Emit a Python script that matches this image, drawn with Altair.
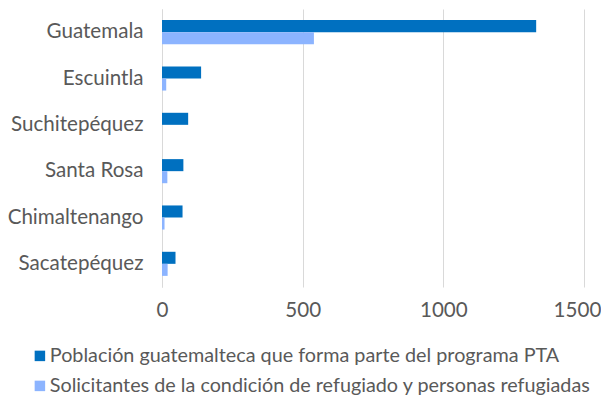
import altair as alt
import pandas as pd

departamentos = ["Guatemala", "Escuintla", "Suchitepéquez", "Santa Rosa", "Chimaltenango", "Sacatepéquez"]
series = ["Población guatemalteca que forma parte del programa PTA",
          "Solicitantes de la condición de refugiado y personas refugiadas"]
pta = [1330, 139, 93, 76, 73, 48]
refugiados = [540, 15, 0, 19, 9, 20]
colores = ["#0070C0", "#8CB4FF"]

rows = []
for d, a, b in zip(departamentos, pta, refugiados):
    rows.append({"dep": d, "serie": series[0], "valor": a})
    rows.append({"dep": d, "serie": series[1], "valor": b})
df = pd.DataFrame(rows)

FONT = "Lato"
TXT = "#595959"
FS = 20.6
LFS = 19.8

chart = alt.Chart(df).mark_bar().encode(
    y=alt.Y("dep:N", sort=departamentos, title=None,
            scale=alt.Scale(paddingInner=0.48, paddingOuter=0.24),
            axis=alt.Axis(ticks=False, domain=True, domainColor="#d9d9d9", labelPadding=19,
                          labelFontSize=FS, labelFont=FONT, labelColor=TXT, grid=False)),
    yOffset=alt.YOffset("serie:N", sort=series, scale=alt.Scale(paddingInner=0, paddingOuter=0)),
    x=alt.X("valor:Q", title=None,
            scale=alt.Scale(domain=[0, 1500], nice=False),
            axis=alt.Axis(values=[0, 500, 1000, 1500], format="d", ticks=False, domain=False, grid=True,
                          gridColor="#d9d9d9", labelPadding=13, labelFontSize=FS, labelFont=FONT,
                          labelColor=TXT, labelFlush=False,
                          labelOffset={"condition": {"test": "datum.value == 1500", "value": -7}, "value": 0})),
    color=alt.Color("serie:N", sort=series,
                    scale=alt.Scale(domain=series, range=colores),
                    legend=alt.Legend(title=None, orient="none", legendX=-132, legendY=337,
                                      direction="vertical", symbolType="square", symbolSize=110,
                                      symbolStrokeWidth=0, labelFontSize=LFS, labelFont=FONT,
                                      labelColor=TXT, rowPadding=9, labelOffset=0,
                                      labelLimit=700)),
).properties(
    width=422, height=278,
    autosize=alt.AutoSizeParams(type="none"),
    padding={"left": 154, "top": 1, "right": 17, "bottom": 110},
).configure_view(stroke=None)

chart.save("out.html", embed_options={"renderer": "svg", "actions": False})
